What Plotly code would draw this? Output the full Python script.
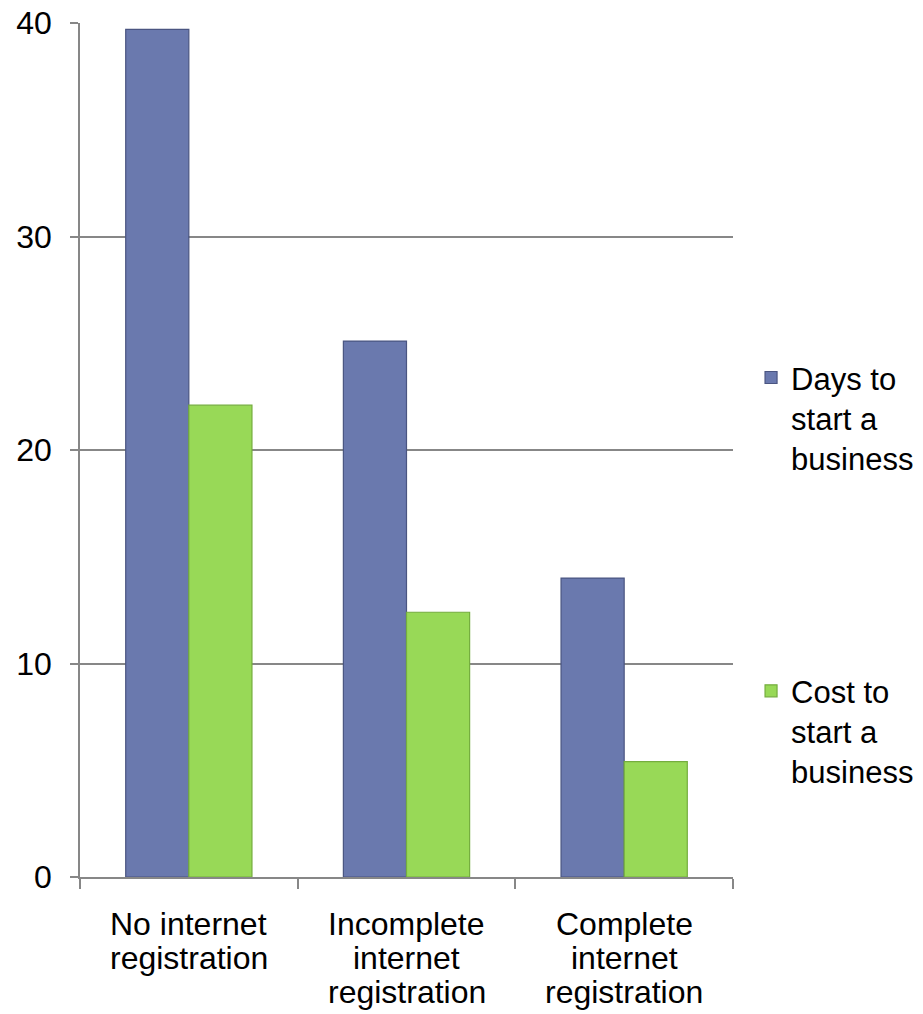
import plotly.graph_objects as go

# ------------------------------- data ---------------------------------------------
categories = [
    "No internet registration",
    "Incomplete internet registration",
    "Complete internet registration",
]
category_lines = [
    ["No internet", "registration"],
    ["Incomplete", "internet", "registration"],
    ["Complete", "internet", "registration"],
]
days_to_start = [39.7, 25.1, 14.0]
cost_to_start = [22.1, 12.4, 5.4]
y_ticks = [0, 10, 20, 30, 40]

FONT = "Liberation Sans, Arial, sans-serif"
GREY = "#878787"

# ------------------------------- figure -------------------------------------------
fig = go.Figure()
fig.add_trace(go.Bar(
    x=categories, y=days_to_start,
    name="Days to<br>start a<br>business",
    marker=dict(color="#6A79AE", line=dict(color="#4A5581", width=1.2)),
    legend="legend",
))
fig.add_trace(go.Bar(
    x=categories, y=cost_to_start,
    name="Cost to<br>start a<br>business",
    marker=dict(color="#98D957", line=dict(color="#74AD3E", width=1.2)),
    legend="legend2",
))

# category labels, one annotation per line so the line spacing matches
for cat, lines in zip(categories, category_lines):
    for i, txt in enumerate(lines):
        fig.add_annotation(
            x=cat, xref="x", y=0, yref="paper", yanchor="middle",
            yshift=-47 - 34 * i, text=txt, showarrow=False,
            font=dict(size=32, color="black"),
        )

fig.update_layout(
    width=923, height=1014,
    margin=dict(l=80, r=190, t=23, b=137),
    paper_bgcolor="white", plot_bgcolor="white",
    font=dict(family=FONT, size=32, color="black"),
    barmode="group", bargap=0.42, bargroupgap=0,
    showlegend=True,
    legend=dict(x=0.8137, y=0.654, xref="container", yref="container",
                xanchor="left", yanchor="top", valign="top",
                font=dict(size=31), itemwidth=30, bgcolor="rgba(0,0,0,0)"),
    legend2=dict(x=0.8137, y=0.345, xref="container", yref="container",
                 xanchor="left", yanchor="top", valign="top",
                 font=dict(size=31), itemwidth=30, bgcolor="rgba(0,0,0,0)"),
)

fig.update_xaxes(
    showline=True, linecolor=GREY, linewidth=1.5,
    ticks="outside", tickson="boundaries", ticklen=10, tickcolor=GREY,
    tickwidth=1.5, showticklabels=False, showgrid=False, automargin=False,
)
fig.update_yaxes(
    range=[0, 40], tickvals=y_ticks,
    showline=True, linecolor=GREY, linewidth=1.5,
    ticks="outside", ticklen=8, tickcolor=GREY, tickwidth=1.5,
    ticklabelstandoff=12, automargin=False,
    showgrid=True, gridcolor=GREY, gridwidth=1.5,
    zeroline=False, tickfont=dict(size=32),
)

fig.write_html(
    "out.html",
    config={"displayModeBar": False},
    post_script="document.body.style.margin='0';",
)
